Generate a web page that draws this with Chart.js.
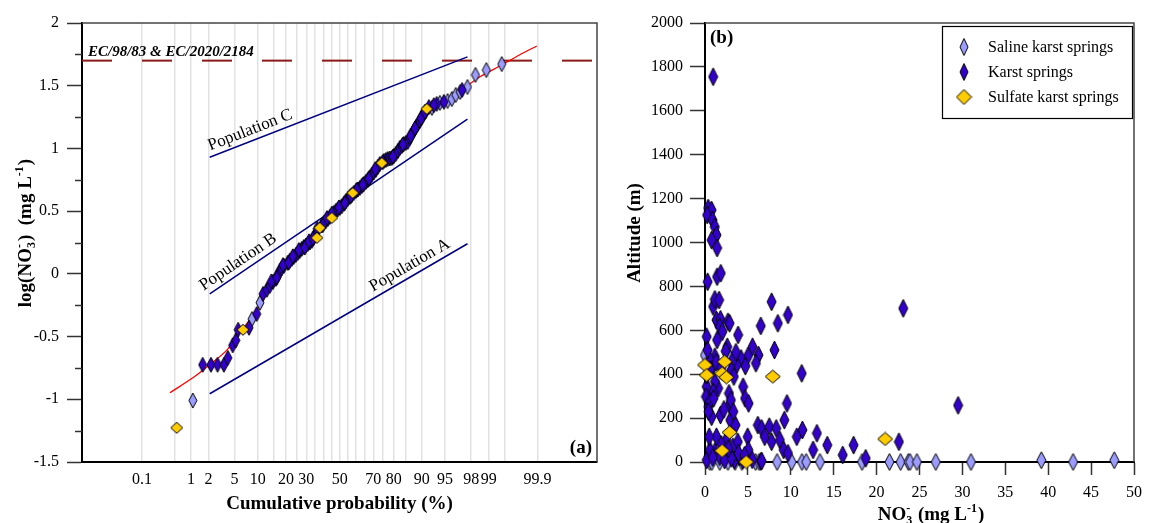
<!DOCTYPE html>
<html lang="en">
<head>
<meta charset="UTF-8">
<title>Nitrate in karst springs</title>
<script src="https://cdn.jsdelivr.net/npm/chart.js@4.4.1/dist/chart.umd.min.js"></script>
<style>
  body { margin: 0; background: #fff; }
  .wrap { position: relative; width: 1150px; height: 523px; }
  .panel { position: absolute; top: 0; height: 523px; }
  #panelA { left: 0; width: 610px; }
  #panelB { left: 610px; width: 540px; }
</style>
</head>
<body>
<div class="wrap">
  <div class="panel" id="panelA"><canvas id="chartA"></canvas></div>
  <div class="panel" id="panelB"><canvas id="chartB"></canvas></div>
</div>
<script>
const SERIF = "'Liberation Serif', 'DejaVu Serif', serif";

// ---- (a) cumulative probability plot of log(NO3) ----
const PROB_GRID = [0.1, 0.5, 1, 2, 5, 10, 15, 20, 25, 30, 35, 40, 45, 50, 55, 60, 65, 70, 75, 80, 85, 90, 95, 98, 99, 99.5, 99.9];
const PROB_LABELS = [0.1, 1, 2, 5, 10, 20, 30, 50, 70, 80, 90, 95, 98, 99, 99.9];
const Z_MIN = -4.03, Z_MAX = 4.02; // axis extent in standard normal units

const KARST_A_P = [1.6, 2.2, 2.8, 3.5, 4.0, 4.7, 5.2, 5.6, 7.8, 9.7, 11.5, 12.7, 13.7, 14.8, 15.9, 16.6, 17.4, 18.2, 19.1, 20.8,
  21.7, 22.7, 23.6, 24.6, 25.6, 27.6, 28.7, 29.8, 30.9, 32.0, 33.1, 34.2, 35.4, 38.9, 40.1, 41.3, 42.6, 43.8, 46.2, 47.5,
  48.7, 50.0, 51.2, 52.5, 55.0, 56.2, 57.4, 58.6, 59.9, 61.1, 62.3, 63.4, 64.6, 65.8, 66.9, 68.0, 69.1, 70.2, 71.3, 72.4,
  73.4, 75.4, 76.4, 77.3, 78.3, 79.2, 80.1, 80.9, 81.8, 82.6, 83.4, 84.1, 84.9, 85.6, 86.3, 87.0, 87.7, 88.3, 88.9, 89.4,
  90.0, 90.5, 91.0, 93.5, 94.8, 97.2,
  14.2, 16.2, 18.7, 21.2, 23.1, 26.1, 29.2, 31.5, 33.7, 36.2, 39.5, 42.0, 45.0, 49.4, 53.1, 56.8, 60.5, 64.0, 67.5, 71.0,
  74.8, 79.7, 83.8, 86.6, 88.0, 89.8, 90.8, 91.8, 92.9];
const KARST_A_LOG = [-0.725, -0.725, -0.725, -0.725, -0.67, -0.57, -0.53, -0.446, -0.43, -0.32, -0.16, -0.127, -0.096, -0.064, -0.040, -0.01, 0.024, 0.045, 0.064, 0.088,
  0.105, 0.120, 0.135, 0.151, 0.167, 0.2, 0.215, 0.227, 0.239, 0.25, 0.263, 0.29, 0.319, 0.386, 0.406, 0.42, 0.438, 0.454, 0.486, 0.502,
  0.514, 0.526, 0.54, 0.558, 0.598, 0.613, 0.629, 0.645, 0.661, 0.673, 0.685, 0.70, 0.717, 0.733, 0.749, 0.77, 0.789, 0.81, 0.829, 0.853,
  0.876, 0.900, 0.908, 0.916, 0.92, 0.924, 0.94, 0.956, 0.98, 1.004, 1.02, 1.036, 1.044, 1.052, 1.084, 1.116, 1.144, 1.171, 1.195, 1.219,
  1.247, 1.275, 1.295, 1.355, 1.371, 1.466,
  -0.06, -0.03, 0.07, 0.09, 0.14, 0.19, 0.21, 0.26, 0.28, 0.36, 0.39, 0.445, 0.48, 0.53, 0.565, 0.62, 0.67, 0.71, 0.76, 0.835,
  0.89, 0.935, 1.03, 1.10, 1.16, 1.24, 1.29, 1.33, 1.345];
const SALINE_A_P = [1.08, 8.5, 10.6, 26.6, 53.7, 92.5, 94.1, 95.4, 96.0, 96.5, 97.0, 97.7, 98.3, 98.9, 99.43];
const SALINE_A_LOG = [-1.01, -0.36, -0.23, 0.183, 0.58, 1.323, 1.363, 1.378, 1.394, 1.426, 1.45, 1.49, 1.586, 1.625, 1.673];
const SULFATE_A_P = [0.54, 6.5, 36.0, 37.7, 45.0, 58.0, 74.4, 91.3];
const SULFATE_A_LOG = [-1.227, -0.446, 0.287, 0.367, 0.446, 0.645, 0.884, 1.315];

// fitted curve through the whole sample
const FIT_P = [0.395, 1.08, 2.1, 3.9, 5.9, 9.2, 12.1, 17.4, 26.6, 37.7, 50, 62.3, 73.4, 82.6, 89.4, 94.1, 97.0, 98.56, 99.38, 99.75, 99.896];
const FIT_LOG = [-0.948, -0.829, -0.725, -0.606, -0.47, -0.311, -0.183, 0.008, 0.183, 0.359, 0.526, 0.685, 0.861, 1.004, 1.219, 1.355, 1.458, 1.57, 1.657, 1.745, 1.817];

// population trend lines (end points)
const POP_P = [2.1, 97.7];
const POP_A = [-0.956, 0.24];
const POP_B = [-0.16, 1.233];
const POP_C = [0.93, 1.73];

const LIMIT_LOG = 1.7; // 50 mg/L drinking water limit
const LIMIT_LABEL = 'EC/98/83 & EC/2020/2184';

// ---- (b) NO3 against spring altitude ----
const KARST_B_NO3 = [0.95, 0.37, 0.77, 0.25, 0.88, 1.15, 1.34, 0.77, 1.41, 0.31,
  1.41, 1.84, 0.95, 1.15, 1.64, 1.34, 1.80, 2.68, 2.87, 0.19,
  1.72, 1.41, 2.03, 2.6, 3.86, 6.5, 7.76, 8.49, 9.67, 8.1,
  5.54, 6.23, 5.93, 5.01, 4.2, 4.7, 3.7, 3.25, 3.06, 3.36,
  4.44, 4.67, 5.08, 2.79, 2.87, 3.02, 1.53, 1.15, 0.95, 0.19,
  0.19, 0.11, 0.38, 0.77, 0.57, 0.88, 1.15, 0.57, 1.8, 2.95,
  3.56, 9.55, 9.25, 11.27, 6.16, 6.6, 7.49, 6.96, 7.76, 8.3,
  8.72, 9.17, 10.7, 11.35, 9.67, 12.6, 13.04, 14.25, 16.05, 17.32,
  18.73, 22.6, 23.1, 29.5, 0.2, 1.15, 0.57, 1.34, 2.49, 3.25,
  3.44, 4.01, 4.4, 4.97, 5.05, 6.5, 3.82, 1.72, 2.29, 3.06,
  0.49, 0.6, 1.3, 1.9, 2.4, 0.3, 3.6, 0.4, 1.0, 2.2,
  3.3, 1.9, 2.7, 3.9, 4.6, 0.9, 5.5, 6.6];
const KARST_B_ALT = [1755, 1157, 1148, 1125, 1102, 1071, 1034, 1011, 975, 821,
  844, 860, 708, 741, 738, 647, 650, 639, 632, 571,
  616, 556, 594, 525, 579, 620, 730, 632, 670, 510,
  525, 487, 450, 483, 472, 437, 442, 465, 419, 389,
  343, 290, 267, 313, 260, 282, 336, 366, 320, 343,
  396, 298, 252, 206, 275, 434, 480, 465, 214, 191,
  168, 267, 191, 404, 168, 153, 161, 115, 92, 153,
  100, 55, 115, 146, 40, 55, 131, 77, 32, 77,
  17, 92, 700, 258, 9, 47, 55, 115, 100, 70,
  9, 24, 9, 115, 55, 2, 92, 24, 9, 17,
  115, 420, 455, 430, 505, 510, 500, 230, 290, 240,
  230, 80, 60, 40, 30, 20, 10, 5];
const SALINE_B_NO3 = [0.0, 2.87, 0.57, 0.8, 1.72, 2.68, 3.5, 4.3, 5.9, 6.3, 8.4, 10.1, 11.3, 11.8, 13.4, 18.3, 21.5, 22.8, 23.7, 23.9, 24.7, 26.9, 31.0, 39.2, 42.9, 47.7];
const SALINE_B_ALT = [487, 477, 0, 0, 0, 0, 0, 0, 0, 0, 0, 0, 0, 0, 0, 0, 0, 0, 0, 0, 0, 0, 0, 8, 0, 8];
const SULFATE_B_NO3 = [0.0, 2.29, 1.99, 2.49, 0.19, 7.9, 2.87, 1.99, 21.0, 4.8];
const SULFATE_B_ALT = [442, 457, 404, 386, 396, 389, 135, 51, 105, 0];

const COLORS = { saline: '#9c9cff', karst: '#3300cc', sulfate: '#ffcc00' };
const NAMES = { saline: 'Saline karst springs', karst: 'Karst springs', sulfate: 'Sulfate karst springs' };

// inverse of the standard normal CDF (Acklam)
function probit(p) {
  const a = [-3.969683028665376e+01, 2.209460984245205e+02, -2.759285104469687e+02, 1.383577518672690e+02, -3.066479806614716e+01, 2.506628277459239e+00];
  const b = [-5.447609879822406e+01, 1.615858368580409e+02, -1.556989798598866e+02, 6.680131188771972e+01, -1.328068155288572e+01];
  const c = [-7.784894002430293e-03, -3.223964580411365e-01, -2.400758277161838e+00, -2.549732539343734e+00, 4.374664141464968e+00, 2.938163982698783e+00];
  const d = [7.784695709041462e-03, 3.224671290700398e-01, 2.445134137142996e+00, 3.754408661907416e+00];
  const pl = 0.02425;
  let q, r;
  if (p < pl) {
    q = Math.sqrt(-2 * Math.log(p));
    return (((((c[0]*q+c[1])*q+c[2])*q+c[3])*q+c[4])*q+c[5]) / ((((d[0]*q+d[1])*q+d[2])*q+d[3])*q+1);
  }
  if (p > 1 - pl) {
    q = Math.sqrt(-2 * Math.log(1 - p));
    return -(((((c[0]*q+c[1])*q+c[2])*q+c[3])*q+c[4])*q+c[5]) / ((((d[0]*q+d[1])*q+d[2])*q+d[3])*q+1);
  }
  q = p - 0.5; r = q * q;
  return (((((a[0]*r+a[1])*r+a[2])*r+a[3])*r+a[4])*r+a[5])*q / (((((b[0]*r+b[1])*r+b[2])*r+b[3])*r+b[4])*r+1);
}

// normal probability axis: values in %, laid out on the z scale
class ProbabilityScale extends Chart.LinearScale {
  getPixelForValue(value) {
    if (value === null || value === undefined) return NaN;
    return this.getPixelForDecimal((probit(value / 100) - Z_MIN) / (Z_MAX - Z_MIN));
  }
}
ProbabilityScale.id = 'probability';
ProbabilityScale.defaults = {};
Chart.register(ProbabilityScale);

Chart.defaults.font.family = SERIF;
Chart.defaults.font.size = 16;
Chart.defaults.color = '#000';

function diamond(w, h, fill) {
  const c = document.createElement('canvas');
  c.width = w + 2; c.height = h + 2;
  const g = c.getContext('2d');
  g.beginPath();
  g.moveTo(c.width / 2, 1);
  g.lineTo(c.width - 1, c.height / 2);
  g.lineTo(c.width / 2, c.height - 1);
  g.lineTo(1, c.height / 2);
  g.closePath();
  g.fillStyle = fill; g.fill();
  g.lineWidth = 1; g.strokeStyle = '#000'; g.stroke();
  return c;
}

const pts = (xs, ys) => xs.map((x, i) => ({ x: x, y: ys[i] }));

// text with sub/superscripts, centred on (cx, cy)
function drawRich(ctx, parts, size, cx, cy, angle) {
  const big = `bold ${size}px ${SERIF}`;
  const small = `bold ${Math.round(size * 0.62)}px ${SERIF}`;
  ctx.save();
  const widthOf = (p) => {
    if (p.t !== undefined) { ctx.font = big; return ctx.measureText(p.t).width; }
    ctx.font = small;
    return Math.max(p.sub ? ctx.measureText(p.sub).width : 0, p.sup ? ctx.measureText(p.sup).width : 0) + 1;
  };
  const total = parts.reduce((s, p) => s + widthOf(p), 0);
  ctx.translate(cx, cy);
  ctx.rotate(angle);
  ctx.fillStyle = '#000';
  ctx.textBaseline = 'alphabetic';
  ctx.textAlign = 'left';
  const base = size * 0.35;
  let x = -total / 2;
  parts.forEach(p => {
    const w = widthOf(p);
    if (p.t !== undefined) {
      ctx.font = big; ctx.fillText(p.t, x, base);
    } else {
      ctx.font = small;
      if (p.sub) ctx.fillText(p.sub, x, base + size * 0.22);
      if (p.sup) ctx.fillText(p.sup, x, base - size * 0.42);
    }
    x += w;
  });
  ctx.restore();
}

const framePlugin = {
  id: 'frame',
  afterDatasetsDraw(chart) {
    const { ctx, chartArea: a } = chart;
    ctx.save();
    ctx.strokeStyle = '#444';
    ctx.lineWidth = 1.5;
    ctx.beginPath();
    ctx.moveTo(a.left, a.top);
    ctx.lineTo(a.right, a.top);
    ctx.lineTo(a.right, a.bottom);
    ctx.stroke();
    ctx.restore();
  }
};

const isMajor = v => Math.abs(v * 2 - Math.round(v * 2)) < 1e-6;

// ---------- chart (a) ----------
const pointA = {
  saline: diamond(8, 15, COLORS.saline),
  karst: diamond(8, 15, COLORS.karst),
  sulfate: diamond(12, 11, COLORS.sulfate)
};

const probPlugin = {
  id: 'probExtras',
  beforeDatasetsDraw(chart) {
    const { ctx, chartArea: a, scales: { y } } = chart;
    const yl = y.getPixelForValue(LIMIT_LOG);
    ctx.save();
    ctx.strokeStyle = '#8b1a1a';
    ctx.lineWidth = 2;
    ctx.setLineDash([30, 30]);
    ctx.beginPath();
    ctx.moveTo(a.left, yl);
    ctx.lineTo(a.right, yl);
    ctx.stroke();
    ctx.restore();
  },
  afterDraw(chart) {
    const { ctx, chartArea: a, scales: { x, y } } = chart;
    ctx.save();
    // minor ticks on the log axis
    ctx.strokeStyle = '#333';
    ctx.lineWidth = 1.5;
    y.ticks.forEach(t => {
      if (isMajor(t.value)) return;
      const py = Math.round(y.getPixelForValue(t.value)) + 0.5;
      ctx.beginPath();
      ctx.moveTo(a.left - 7, py);
      ctx.lineTo(a.left, py);
      ctx.stroke();
    });

    // limit label
    ctx.fillStyle = '#000';
    ctx.font = `italic bold 15px ${SERIF}`;
    ctx.textAlign = 'left';
    ctx.textBaseline = 'alphabetic';
    ctx.fillText(LIMIT_LABEL, a.left + 6, y.getPixelForValue(LIMIT_LOG) - 5);

    // population labels along their lines
    ctx.font = `17px ${SERIF}`;
    const label = (ls, text, frac) => {
      const x0 = x.getPixelForValue(POP_P[0]), y0 = y.getPixelForValue(ls[0]);
      const x1 = x.getPixelForValue(POP_P[1]), y1 = y.getPixelForValue(ls[1]);
      const ang = Math.atan2(y1 - y0, x1 - x0);
      ctx.save();
      ctx.translate(x0 + (x1 - x0) * frac, y0 + (y1 - y0) * frac);
      ctx.rotate(ang);
      ctx.fillText(text, 0, -6);
      ctx.restore();
    };
    label(POP_C, 'Population C', 0.01);
    label(POP_B, 'Population B', -0.01);
    label(POP_A, 'Population A', 0.645);

    ctx.font = `bold 19px ${SERIF}`;
    ctx.textAlign = 'right';
    ctx.fillText('(a)', a.right - 5, a.bottom - 9);
    ctx.restore();

    drawRich(ctx, [{ t: 'Cumulative probability (%)' }], 19, (a.left + a.right) / 2, 502, 0);
    drawRich(ctx, [{ t: 'log(NO' }, { sub: '3', sup: '-' }, { t: ')  (mg L' }, { sup: '-1' }, { t: ')' }], 19, 24, 233, -Math.PI / 2);
  }
};

new Chart(document.getElementById('chartA'), {
  type: 'scatter',
  data: {
    datasets: [
      { label: 'fit', data: pts(FIT_P, FIT_LOG), showLine: true, borderColor: '#ff0000', borderWidth: 1.3, pointRadius: 0, tension: 0.3, order: 5 },
      { label: 'Population A', data: pts(POP_P, POP_A), showLine: true, borderColor: '#000080', borderWidth: 1.5, pointRadius: 0, order: 6 },
      { label: 'Population B', data: pts(POP_P, POP_B), showLine: true, borderColor: '#000080', borderWidth: 1.5, pointRadius: 0, order: 6 },
      { label: 'Population C', data: pts(POP_P, POP_C), showLine: true, borderColor: '#000080', borderWidth: 1.5, pointRadius: 0, order: 6 },
      { label: NAMES.saline, data: pts(SALINE_A_P, SALINE_A_LOG), pointStyle: pointA.saline, pointRadius: 6, order: 3 },
      { label: NAMES.karst, data: pts(KARST_A_P, KARST_A_LOG), pointStyle: pointA.karst, pointRadius: 6, order: 2 },
      { label: NAMES.sulfate, data: pts(SULFATE_A_P, SULFATE_A_LOG), pointStyle: pointA.sulfate, pointRadius: 6, order: 1 }
    ].map(d => Object.assign({ clip: false }, d))
  },
  options: {
    responsive: true,
    maintainAspectRatio: false,
    animation: false,
    events: [],
    layout: { padding: { left: 0, top: 23, right: 13, bottom: 0 } },
    plugins: { legend: { display: false }, tooltip: { enabled: false } },
    scales: {
      x: {
        type: 'probability',
        min: 0,
        max: 100,
        bounds: 'data',
        afterBuildTicks: s => { s.ticks = PROB_GRID.map(v => ({ value: v })); },
        afterFit: s => { s.height = 61; },
        ticks: { autoSkip: false, maxRotation: 0, padding: 8, callback: v => PROB_LABELS.includes(v) ? String(v) : '' },
        grid: { color: '#e2e2e2', lineWidth: 1.5, drawTicks: false },
        border: { color: '#000', width: 2 }
      },
      y: {
        min: -1.5,
        max: 2,
        afterFit: s => { s.width = 82; },
        ticks: { stepSize: 0.25, padding: 8, callback: v => isMajor(v) ? String(v) : '' },
        grid: {
          drawOnChartArea: false, tickLength: 15, tickWidth: 1.5,
          tickColor: c => (c.tick && isMajor(c.tick.value)) ? '#333' : 'rgba(0,0,0,0)'
        },
        border: { color: '#000', width: 2 }
      }
    }
  },
  plugins: [probPlugin, framePlugin]
});

// ---------- chart (b) ----------
const pointB = {
  saline: diamond(9, 17, COLORS.saline),
  karst: diamond(9, 18, COLORS.karst),
  sulfate: diamond(15, 13, COLORS.sulfate)
};
const legendMarks = {
  saline: diamond(8, 17, COLORS.saline),
  karst: diamond(8, 17, COLORS.karst),
  sulfate: diamond(15, 15, COLORS.sulfate)
};

const altPlugin = {
  id: 'altExtras',
  afterDraw(chart) {
    const { ctx, chartArea: a } = chart;
    ctx.save();
    // legend box
    const bw = 190, bh = 92;
    const bx = a.right - 2 - bw, by = a.top + 3;
    ctx.fillStyle = '#fff';
    ctx.fillRect(bx, by, bw, bh);
    ctx.strokeStyle = '#000';
    ctx.lineWidth = 1.2;
    ctx.strokeRect(bx + 0.5, by + 0.5, bw, bh);
    ctx.font = `16px ${SERIF}`;
    ctx.fillStyle = '#000';
    ctx.textAlign = 'left';
    ctx.textBaseline = 'middle';
    ['saline', 'karst', 'sulfate'].forEach((k, i) => {
      const cy = by + 21 + i * 25;
      const m = legendMarks[k];
      ctx.drawImage(m, bx + 22 - m.width / 2, cy - m.height / 2);
      ctx.fillText(NAMES[k], bx + 46, cy + 1);
    });

    ctx.font = `bold 19px ${SERIF}`;
    ctx.textBaseline = 'alphabetic';
    ctx.fillText('(b)', a.left + 5, a.top + 20);
    ctx.restore();

    drawRich(ctx, [{ t: 'NO' }, { sub: '3', sup: '-' }, { t: ' (mg L' }, { sup: '-1' }, { t: ')' }], 19, 321, 513, 0);
    drawRich(ctx, [{ t: 'Altitude (m)' }], 19, 23, 233, -Math.PI / 2);
  }
};

new Chart(document.getElementById('chartB'), {
  type: 'scatter',
  data: {
    datasets: [
      { label: NAMES.saline, data: pts(SALINE_B_NO3, SALINE_B_ALT), pointStyle: pointB.saline, pointRadius: 8, order: 3 },
      { label: NAMES.karst, data: pts(KARST_B_NO3, KARST_B_ALT), pointStyle: pointB.karst, pointRadius: 8, order: 2 },
      { label: NAMES.sulfate, data: pts(SULFATE_B_NO3, SULFATE_B_ALT), pointStyle: pointB.sulfate, pointRadius: 8, order: 1 }
    ].map(d => Object.assign({ clip: false }, d))
  },
  options: {
    responsive: true,
    maintainAspectRatio: false,
    animation: false,
    events: [],
    layout: { padding: { left: 0, top: 23, right: 9, bottom: 0 } },
    plugins: { legend: { display: false }, tooltip: { enabled: false } },
    scales: {
      x: {
        type: 'linear',
        min: 0,
        max: 50,
        afterFit: s => { s.height = 61; },
        ticks: { stepSize: 5, padding: 8, maxRotation: 0, callback: v => String(v) },
        grid: { drawOnChartArea: false, tickLength: 13, tickWidth: 1.5, tickColor: '#333' },
        border: { color: '#000', width: 2 }
      },
      y: {
        min: 0,
        max: 2000,
        afterFit: s => { s.width = 95; },
        ticks: { stepSize: 200, padding: 7, callback: v => String(v) },
        grid: { drawOnChartArea: false, tickLength: 15, tickWidth: 1.5, tickColor: '#333' },
        border: { color: '#000', width: 2 }
      }
    }
  },
  plugins: [altPlugin, framePlugin]
});
</script>
</body>
</html>
